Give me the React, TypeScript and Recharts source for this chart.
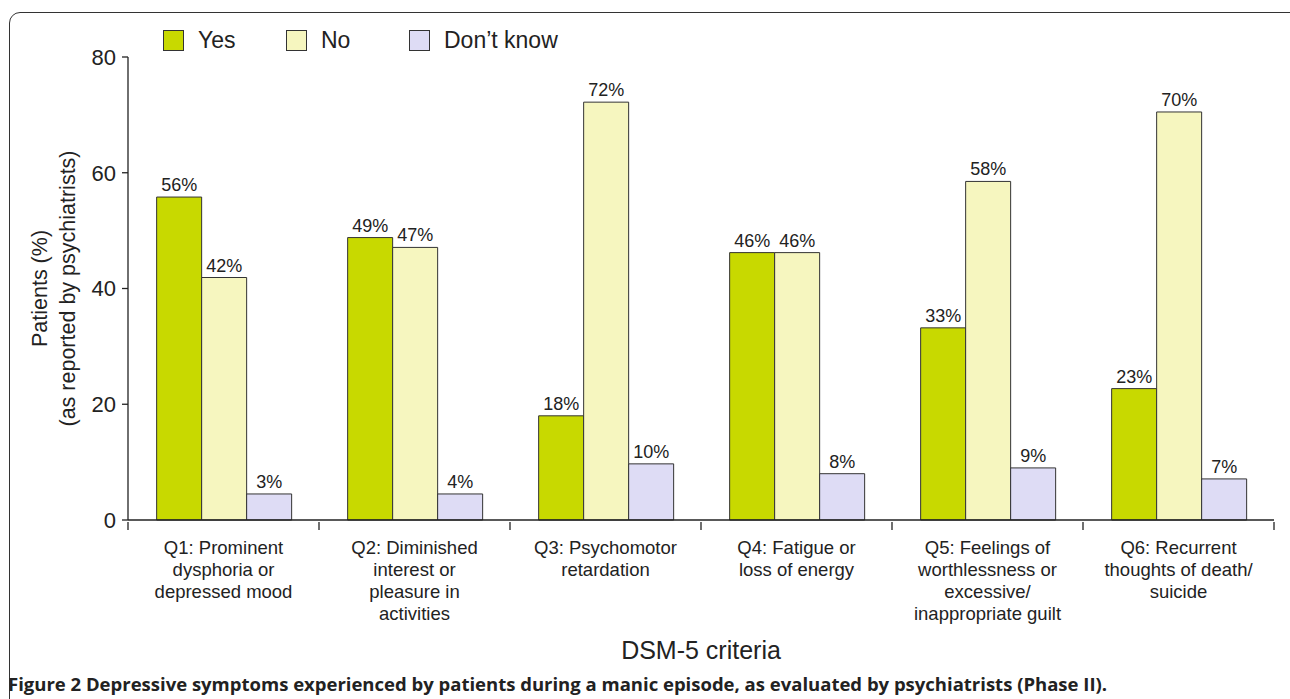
import React from "react";
import { BarChart, Bar, XAxis, YAxis, LabelList } from "recharts";

const categories = ["Q1", "Q2", "Q3", "Q4", "Q5", "Q6"];
const categoryLines: string[][] = [
  ["Q1: Prominent", "dysphoria or", "depressed mood"],
  ["Q2: Diminished", "interest or", "pleasure in", "activities"],
  ["Q3: Psychomotor", "retardation"],
  ["Q4: Fatigue or", "loss of energy"],
  ["Q5: Feelings of", "worthlessness or", "excessive/", "inappropriate guilt"],
  ["Q6: Recurrent", "thoughts of death/", "suicide"],
];
const yesValues = [55.8, 48.8, 18.0, 46.2, 33.2, 22.7];
const noValues = [41.9, 47.1, 72.2, 46.2, 58.5, 70.5];
const dkValues = [4.5, 4.5, 9.7, 8.0, 9.0, 7.1];
const yesLabels = ["56%", "49%", "18%", "46%", "33%", "23%"];
const noLabels = ["42%", "47%", "72%", "46%", "58%", "70%"];
const dkLabels = ["3%", "4%", "10%", "8%", "9%", "7%"];
const yTicks = [0, 20, 40, 60, 80];
const seriesNames = ["Yes", "No", "Don\u2019t know"];
const seriesColors = ["#c8d900", "#f6f6bf", "#dedcf5"];

const data = categories.map((c, i) => ({
  name: c,
  yes: yesValues[i],
  no: noValues[i],
  dk: dkValues[i],
  yesL: yesLabels[i],
  noL: noLabels[i],
  dkL: dkLabels[i],
}));

const FONT = "'Liberation Sans', Arial, Helvetica, sans-serif";
const W = 1290;
const H = 699;
const M = { top: 57, right: 16, bottom: 0, left: 0 };
const Y_W = 128;
const X_H = 179;
const BAND = (W - M.right - Y_W) / categories.length;

const XTick = (props: any) => {
  const { x, y, payload, index } = props;
  const idx = typeof index === "number" ? index : categories.indexOf(payload.value);
  const half = payload && typeof payload.offset === "number" && payload.offset > 0 ? payload.offset : BAND / 2;
  const lines = categoryLines[idx] || [];
  const axisY = y - 8;
  return (
    <g>
      <line x1={x - half} y1={axisY} x2={x - half} y2={axisY + 8} stroke="#222" strokeWidth={1.3} />
      {idx === categories.length - 1 && (
        <line x1={x + half} y1={axisY} x2={x + half} y2={axisY + 8} stroke="#222" strokeWidth={1.3} />
      )}
      <text x={x} y={axisY + 32} textAnchor="middle" fontSize={18.5} fontFamily={FONT} fill="#222">
        {lines.map((l, k) => (
          <tspan key={k} x={x} dy={k === 0 ? 0 : 22}>
            {l}
          </tspan>
        ))}
      </text>
    </g>
  );
};

const XLabel = (props: any) => {
  const vb = props.viewBox || {};
  const cx = (vb.x || 0) + (vb.width || 0) / 2;
  const top = vb.y || 0;
  return (
    <text x={cx} y={top + 139} textAnchor="middle" fontSize={25} fontFamily={FONT} fill="#222">
      DSM-5 criteria
    </text>
  );
};

const YLabel = (props: any) => {
  const vb = props.viewBox || {};
  const cy = (vb.y || 0) + (vb.height || 0) / 2;
  return (
    <g>
      <text x={40} y={cy} transform={`rotate(-90, 40, ${cy})`} textAnchor="middle" dominantBaseline="central" fontSize={21.5} fontFamily={FONT} fill="#222">
        Patients (%)
      </text>
      <text x={68} y={cy} transform={`rotate(-90, 68, ${cy})`} textAnchor="middle" dominantBaseline="central" fontSize={21.5} fontFamily={FONT} fill="#222">
        (as reported by psychiatrists)
      </text>
    </g>
  );
};

const labelStyle = { fontSize: 18, fontFamily: FONT, fill: "#222" };

export default function App() {
  return (
    <div style={{ position: "fixed", left: 0, top: 0, width: W, height: H, overflow: "hidden", background: "#fff" }}>
      <div style={{ position: "absolute", left: 9, top: 12, width: 1300, height: 720, border: "1.5px solid #333", borderRadius: 11, boxSizing: "border-box" }} />
      <div style={{ position: "absolute", left: 163, top: 27, display: "flex", alignItems: "center", fontFamily: FONT, fontSize: 23, color: "#222", whiteSpace: "nowrap", zIndex: 2 }}>
        {seriesNames.map((n, i) => (
          <div key={n} style={{ display: "flex", alignItems: "center", width: 123 }}>
            <div style={{ width: 21, height: 21, background: seriesColors[i], border: "1.3px solid #333", boxSizing: "border-box", marginRight: 14, flexShrink: 0 }} />
            <span>{n}</span>
          </div>
        ))}
      </div>
      <BarChart width={W} height={H} data={data} margin={M} barCategoryGap="15%" barGap={0} style={{ position: "absolute", left: 0, top: 0 }}>
        <YAxis
          width={Y_W}
          domain={[0, 80]}
          ticks={yTicks}
          interval={0}
          tickSize={6}
          tickMargin={6}
          axisLine={{ stroke: "#222", strokeWidth: 1.3 }}
          tickLine={{ stroke: "#222", strokeWidth: 1.3 }}
          tick={{ fontSize: 22, fontFamily: FONT, fill: "#222" }}
          label={<YLabel />}
        />
        <XAxis
          dataKey="name"
          interval={0}
          tickLine={false}
          tickSize={8}
          axisLine={{ stroke: "#222", strokeWidth: 1.3 }}
          tick={<XTick />}
          height={X_H}
          label={<XLabel />}
        />
        <Bar dataKey="yes" fill={seriesColors[0]} stroke="#333" strokeWidth={1} isAnimationActive={false}>
          <LabelList dataKey="yesL" position="top" offset={6} style={labelStyle} />
        </Bar>
        <Bar dataKey="no" fill={seriesColors[1]} stroke="#333" strokeWidth={1} isAnimationActive={false}>
          <LabelList dataKey="noL" position="top" offset={6} style={labelStyle} />
        </Bar>
        <Bar dataKey="dk" fill={seriesColors[2]} stroke="#333" strokeWidth={1} isAnimationActive={false}>
          <LabelList dataKey="dkL" position="top" offset={6} style={labelStyle} />
        </Bar>
      </BarChart>
      <div style={{ position: "absolute", left: 8, top: 671, fontFamily: "'Open Sans', 'Noto Sans', sans-serif", fontWeight: 700, fontSize: 18.5, color: "#222", whiteSpace: "nowrap" }}>
        Figure 2 Depressive symptoms experienced by patients during a manic episode, as evaluated by psychiatrists (Phase II).
      </div>
    </div>
  );
}
